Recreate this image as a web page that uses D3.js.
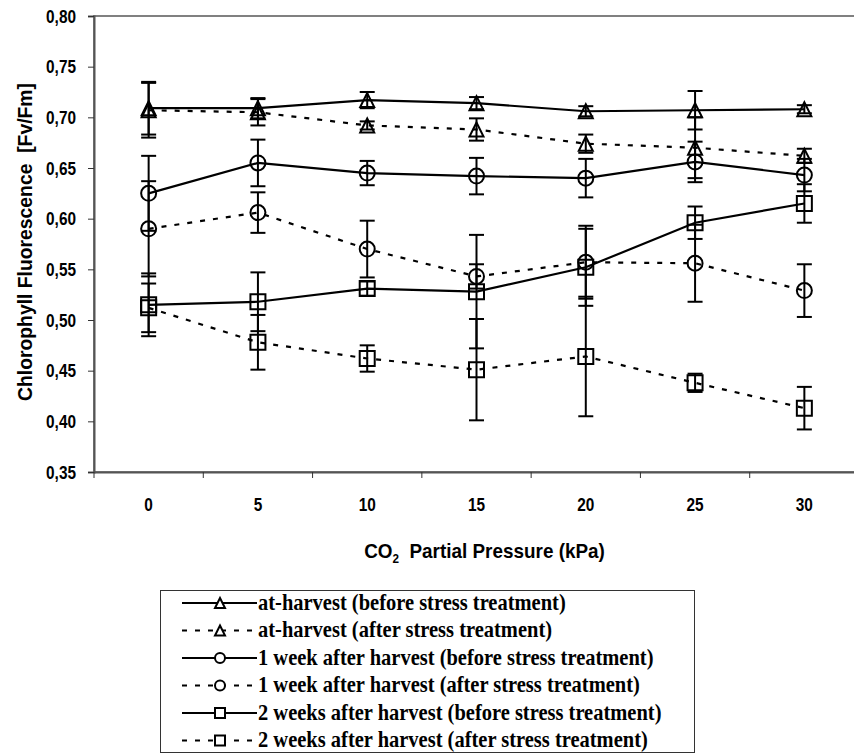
<!DOCTYPE html>
<html>
<head>
<meta charset="utf-8">
<script src="https://cdn.jsdelivr.net/npm/d3@7/dist/d3.min.js"></script>
<style>
    body { margin: 0; background: #fff; }
    svg { display: block; }
    .axis text, .axis-title {
        font-family: "Liberation Sans", Arial, sans-serif;
        font-weight: bold;
        font-size: 19px;
        fill: #000;
    }
    .axis-title { font-size: 21px; white-space: pre; }
    .legend text {
        font-family: "Liberation Serif", "Times New Roman", serif;
        font-weight: bold;
        font-size: 20.5px;
        fill: #000;
    }
</style>
</head>
<body>
<svg id="chart" width="854" height="753"></svg>
<script>
// CO2 partial pressure categories (kPa)
const pressures = ['0', '5', '10', '15', '20', '25', '30'];
const yTicks = [0.35, 0.40, 0.45, 0.50, 0.55, 0.60, 0.65, 0.70, 0.75, 0.80];

// at-harvest
const harvestBefore = [0.709, 0.709, 0.717, 0.714, 0.706, 0.707, 0.708];
const harvestBeforeErr = [0.026, 0.010, 0.008, 0.006, 0.005, 0.019, 0.004];
const harvestAfter = [0.707, 0.705, 0.692, 0.688, 0.674, 0.670, 0.662];
const harvestAfterErr = [0.027, 0.013, 0.004, 0.011, 0.009, 0.030, 0.007];

// 1 week after harvest
const week1Before = [0.625, 0.655, 0.645, 0.642, 0.640, 0.656, 0.643];
const week1BeforeErr = [0.037, 0.023, 0.012, 0.018, 0.019, 0.020, 0.016];
const week1After = [0.590, 0.606, 0.570, 0.543, 0.557, 0.556, 0.529];
const week1AfterErr = [0.047, 0.020, 0.028, 0.012, 0.036, 0.038, 0.026];

// 2 weeks after harvest
const week2Before = [0.515, 0.518, 0.531, 0.528, 0.552, 0.596, 0.615];
const week2BeforeErr = [0.031, 0.029, 0.007, 0.056, 0.038, 0.016, 0.019];
const week2After = [0.512, 0.478, 0.462, 0.451, 0.464, 0.438, 0.413];
const week2AfterErr = [0.024, 0.027, 0.013, 0.050, 0.059, 0.009, 0.021];

const seriesNames = [
    'at-harvest (before stress treatment)',
    'at-harvest (after stress treatment)',
    '1 week after harvest (before stress treatment)',
    '1 week after harvest (after stress treatment)',
    '2 weeks after harvest (before stress treatment)',
    '2 weeks after harvest (after stress treatment)'
];

const series = [
    { name: seriesNames[0], values: harvestBefore, err: harvestBeforeErr, marker: 'triangle', dashed: false },
    { name: seriesNames[1], values: harvestAfter, err: harvestAfterErr, marker: 'triangle', dashed: true },
    { name: seriesNames[2], values: week1Before, err: week1BeforeErr, marker: 'circle', dashed: false },
    { name: seriesNames[3], values: week1After, err: week1AfterErr, marker: 'circle', dashed: true },
    { name: seriesNames[4], values: week2Before, err: week2BeforeErr, marker: 'square', dashed: false },
    { name: seriesNames[5], values: week2After, err: week2AfterErr, marker: 'square', dashed: true }
];

const svg = d3.select('#chart');
const plot = { left: 94, top: 16, right: 859, bottom: 472 };
const dash = '5,8';

const x = d3.scaleBand().domain(pressures).range([plot.left, plot.right]);
const y = d3.scaleLinear().domain([0.35, 0.80]).range([plot.bottom, plot.top]);
const cx = d => x(d) + x.bandwidth() / 2;

// narrow bold look: squeeze glyphs horizontally
function squeeze(sel, k) {
    sel.each(function () {
        const w = this.getComputedTextLength();
        d3.select(this).attr('textLength', w * k).attr('lengthAdjust', 'spacingAndGlyphs');
    });
}

// marker shapes, s = full size
function markerPath(type, s) {
    const h = s / 2;
    if (type === 'triangle') return `M0,${-h}L${h},${h}L${-h},${h}Z`;
    if (type === 'square') return `M${-h},${-h}H${h}V${h}H${-h}Z`;
    return d3.arc()({ innerRadius: 0, outerRadius: h, startAngle: 0, endAngle: 2 * Math.PI });
}

// plot area frame
svg.append('rect')
    .attr('x', plot.left).attr('y', plot.top)
    .attr('width', plot.right - plot.left).attr('height', plot.bottom - plot.top)
    .attr('fill', 'none').attr('stroke', '#808080').attr('stroke-width', 2);

// y axis
const yAxis = svg.append('g')
    .attr('class', 'axis')
    .attr('transform', `translate(${plot.left},0)`)
    .call(d3.axisLeft(y).tickValues(yTicks).tickSize(6).tickPadding(12)
        .tickFormat(d => d3.format('.2f')(d).replace('.', ',')));
yAxis.select('.domain').attr('stroke', '#555').attr('stroke-width', 2);
yAxis.selectAll('.tick line').attr('stroke', '#333');
squeeze(yAxis.selectAll('.tick text'), 0.81);

// x axis: labels centred in bands, ticks between categories
const xAxis = svg.append('g')
    .attr('class', 'axis')
    .attr('transform', `translate(0,${plot.bottom})`)
    .call(d3.axisBottom(x).tickSize(0).tickPadding(26));
xAxis.select('.domain').attr('stroke', '#555').attr('stroke-width', 2);
xAxis.selectAll('.tick line').remove();
squeeze(xAxis.selectAll('.tick text'), 0.81);
xAxis.selectAll('line.sep')
    .data(pressures)
    .enter().append('line')
    .attr('class', 'sep')
    .attr('x1', d => x(d)).attr('x2', d => x(d))
    .attr('y1', 0).attr('y2', 6)
    .attr('stroke', '#333');

// axis titles
svg.append('text')
    .attr('class', 'axis-title')
    .attr('transform', `translate(32,${(plot.top + plot.bottom) / 2 - 2}) rotate(-90)`)
    .attr('text-anchor', 'middle')
    .attr('font-size', '19px')
    .attr('textLength', 318)
    .attr('lengthAdjust', 'spacingAndGlyphs')
    .text('Chlorophyll Fluorescence  [Fv/Fm]');

const xTitle = svg.append('g')
    .attr('transform', `translate(${(plot.left + plot.right) / 2 + 8},558) scale(0.9,1)`)
    .append('text')
    .attr('class', 'axis-title')
    .attr('text-anchor', 'middle');
xTitle.append('tspan').text('CO');
xTitle.append('tspan').attr('font-size', '13px').attr('dy', 5).text('2');
xTitle.append('tspan').attr('dy', -5).text('  Partial Pressure (kPa)');

// series
const line = d3.line().x((d, i) => cx(pressures[i])).y(d => y(d));
const chart = svg.append('g');

series.forEach(s => {
    const g = chart.append('g');
    const pts = s.values.map((v, i) => ({ cat: pressures[i], v, e: s.err[i] }));

    // error bars
    const eb = g.selectAll('g.err').data(pts).enter().append('g').attr('class', 'err')
        .attr('stroke', '#000').attr('stroke-width', 2);
    eb.append('line')
        .attr('x1', d => cx(d.cat)).attr('x2', d => cx(d.cat))
        .attr('y1', d => y(d.v + d.e)).attr('y2', d => y(d.v - d.e));
    [1, -1].forEach(sign => {
        eb.append('line')
            .attr('x1', d => cx(d.cat) - 7.5).attr('x2', d => cx(d.cat) + 7.5)
            .attr('y1', d => y(d.v + sign * d.e)).attr('y2', d => y(d.v + sign * d.e));
    });

    g.append('path')
        .attr('d', line(s.values))
        .attr('fill', 'none')
        .attr('stroke', '#000')
        .attr('stroke-width', 2.2)
        .attr('stroke-dasharray', s.dashed ? dash : null);

    g.selectAll('path.mk').data(pts).enter().append('path')
        .attr('class', 'mk')
        .attr('transform', d => `translate(${cx(d.cat)},${y(d.v)})`)
        .attr('d', markerPath(s.marker, s.marker === 'triangle' ? 14 : 15))
        .attr('fill', 'none')
        .attr('stroke', '#000')
        .attr('stroke-width', 2);
});

// legend
const legend = svg.append('g').attr('class', 'legend');
legend.append('rect')
    .attr('x', 160.5).attr('y', 590.5)
    .attr('width', 534).attr('height', 162)
    .attr('fill', '#fff').attr('stroke', '#333').attr('stroke-width', 1);

const rowY = i => 603 + i * 27.5;
const rows = legend.selectAll('g.row').data(series).enter().append('g')
    .attr('class', 'row')
    .attr('transform', (d, i) => `translate(0,${rowY(i)})`);
rows.append('line')
    .attr('x1', 182).attr('x2', 257).attr('y1', 0).attr('y2', 0)
    .attr('stroke', '#000').attr('stroke-width', 2)
    .attr('stroke-dasharray', d => d.dashed ? dash : null);
rows.append('path')
    .attr('transform', 'translate(220,0)')
    .attr('d', d => markerPath(d.marker, 10))
    .attr('fill', '#fff')
    .attr('stroke', '#000')
    .attr('stroke-width', 2);
rows.append('text')
    .attr('x', 258)
    .attr('transform', 'scale(1,1.1)')
    .attr('dy', '0.3em')
    .text(d => d.name);
</script>
</body>
</html>
